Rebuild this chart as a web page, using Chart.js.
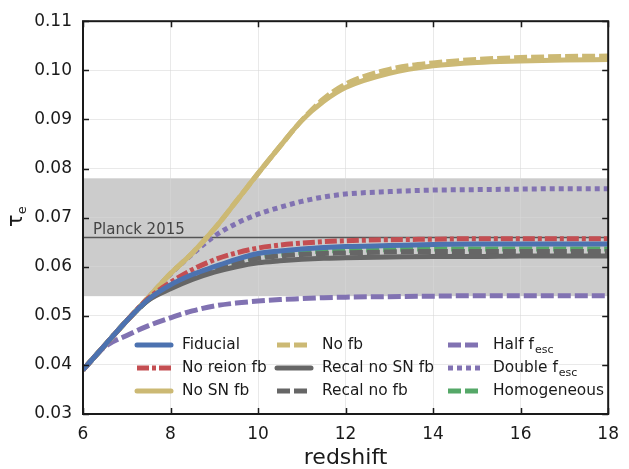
<!DOCTYPE html>
<html>
<head>
<meta charset="utf-8">
<script src="https://cdn.jsdelivr.net/npm/chart.js@4"></script>
<style>
  html, body { margin: 0; padding: 0; background: #fff; }
  #wrap { width: 629px; height: 469px; }
</style>
</head>
<body>
<div id="wrap"><canvas id="tau"></canvas></div>
<script>
// redshift samples
var redshift = [6, 6.5, 7, 7.5, 8, 8.5, 9, 9.5, 10, 10.5, 11, 11.5, 12, 13, 14, 15, 16, 17, 18];

// optical depth of each model
var fiducial     = [0.039, 0.044, 0.049, 0.0534, 0.0563, 0.0584, 0.0600, 0.0615, 0.0627, 0.0632, 0.0636, 0.0639, 0.0641, 0.0643, 0.0645, 0.0646, 0.0646, 0.0646, 0.0646];
var noReionFb    = [0.039, 0.044, 0.049, 0.0536, 0.0568, 0.0594, 0.0614, 0.0628, 0.0638, 0.0644, 0.0648, 0.0651, 0.0653, 0.0655, 0.0656, 0.0657, 0.0657, 0.0657, 0.0657];
var noSnFb       = [0.039, 0.044, 0.049, 0.0538, 0.0586, 0.0628, 0.0677, 0.0733, 0.0790, 0.0845, 0.0898, 0.0937, 0.0965, 0.0994, 0.1009, 0.1016, 0.1019, 0.1021, 0.1022];
var noFb         = [0.039, 0.044, 0.049, 0.0538, 0.0586, 0.0628, 0.0677, 0.0733, 0.0790, 0.0845, 0.0898, 0.0942, 0.0972, 0.1002, 0.1015, 0.1022, 0.1026, 0.1028, 0.1029];
var recalNoSnFb  = [0.039, 0.044, 0.049, 0.0532, 0.0555, 0.0574, 0.0589, 0.0600, 0.0608, 0.0612, 0.0615, 0.0617, 0.0618, 0.0620, 0.0621, 0.0621, 0.0622, 0.0622, 0.0622];
var recalNoFb    = [0.039, 0.044, 0.049, 0.0533, 0.0559, 0.0580, 0.0596, 0.0608, 0.0617, 0.0622, 0.0625, 0.0627, 0.0628, 0.0630, 0.0631, 0.0631, 0.0631, 0.0631, 0.0631];
var halfFesc     = [0.039, 0.0437, 0.0460, 0.0480, 0.0496, 0.0510, 0.0520, 0.0526, 0.0530, 0.0533, 0.0535, 0.0537, 0.0538, 0.0539, 0.0540, 0.0541, 0.0541, 0.0541, 0.0541];
var doubleFesc   = [0.039, 0.044, 0.049, 0.0538, 0.0585, 0.0626, 0.0662, 0.0688, 0.0707, 0.0721, 0.0733, 0.0742, 0.0748, 0.0753, 0.0756, 0.0757, 0.0758, 0.0759, 0.0759];
var homogeneous  = [0.039, 0.044, 0.049, 0.0533, 0.0561, 0.0582, 0.0597, 0.0610, 0.0620, 0.0625, 0.0629, 0.0632, 0.0633, 0.0635, 0.0636, 0.0636, 0.0636, 0.0636, 0.0636];

// Planck 2015 constraint
var planckTau = 0.066;
var planckLow = 0.054;
var planckHigh = 0.078;

var xTicks = [6, 8, 10, 12, 14, 16, 18];
var yTicks = [0.03, 0.04, 0.05, 0.06, 0.07, 0.08, 0.09, 0.10, 0.11];

var FONT = "'DejaVu Sans', sans-serif";

// label, sub-label, values, colour, dash
var models = [
    ['Fiducial', '', fiducial, '#4c72b0', []],
    ['No reion fb', '', noReionFb, '#c44e52', [12, 3, 4, 3]],
    ['No SN fb', '', noSnFb, '#ccb974', []],
    ['No fb', '', noFb, '#ccb974', [13, 4]],
    ['Recal no SN fb', '', recalNoSnFb, '#666666', []],
    ['Recal no fb', '', recalNoFb, '#666666', [13, 4]],
    ['Half f', 'esc', halfFesc, '#8172b2', [13, 4]],
    ['Double f', 'esc', doubleFesc, '#8172b2', [5, 4]],
    ['Homogeneous', '', homogeneous, '#55a868', [13, 4]]
];

function points(vals) {
    return vals.map(function (v, i) { return { x: redshift[i], y: v }; });
}

var datasets = models.map(function (m) {
    return {
        label: m[0] + m[1],
        data: points(m[2]),
        borderColor: m[3],
        borderWidth: 5,
        borderDash: m[4],
        borderCapStyle: 'butt',
        pointRadius: 0,
        fill: false,
        cubicInterpolationMode: 'monotone'
    };
});

// gray band + Planck line
var bandPlugin = {
    id: 'band',
    beforeDraw: function (chart) {
        var ctx = chart.ctx, a = chart.chartArea, y = chart.scales.y;
        ctx.save();
        ctx.fillStyle = '#cccccc';
        var top = y.getPixelForValue(planckHigh), bot = y.getPixelForValue(planckLow);
        ctx.fillRect(a.left, top, a.right - a.left, bot - top);
        ctx.restore();
    },
    beforeDatasetsDraw: function (chart) {
        var ctx = chart.ctx, a = chart.chartArea, y = chart.scales.y;
        var py = Math.round(y.getPixelForValue(planckTau)) + 0.5;
        ctx.save();
        ctx.strokeStyle = '#555555';
        ctx.lineWidth = 1.5;
        ctx.beginPath();
        ctx.moveTo(a.left, py);
        ctx.lineTo(a.right, py);
        ctx.stroke();
        ctx.fillStyle = '#444444';
        ctx.font = '15px ' + FONT;
        ctx.textBaseline = 'alphabetic';
        ctx.fillText('Planck 2015', a.left + 10, py - 4);
        ctx.restore();
    }
};

// frame, inward ticks, legend, y title
var framePlugin = {
    id: 'frame',
    afterDraw: function (chart) {
        var ctx = chart.ctx, a = chart.chartArea;
        var xs = chart.scales.x, ys = chart.scales.y;
        ctx.save();
        ctx.strokeStyle = '#1a1a1a';
        ctx.lineWidth = 1.5;
        xTicks.forEach(function (t) {
            var px = Math.round(xs.getPixelForValue(t)) + 0.5;
            ctx.beginPath();
            ctx.moveTo(px, a.bottom); ctx.lineTo(px, a.bottom - 6);
            ctx.moveTo(px, a.top); ctx.lineTo(px, a.top + 6);
            ctx.stroke();
        });
        yTicks.forEach(function (t) {
            var py = Math.round(ys.getPixelForValue(t)) + 0.5;
            ctx.beginPath();
            ctx.moveTo(a.left, py); ctx.lineTo(a.left + 6, py);
            ctx.moveTo(a.right, py); ctx.lineTo(a.right - 6, py);
            ctx.stroke();
        });
        ctx.lineWidth = 2;
        ctx.strokeRect(a.left, a.top, a.right - a.left, a.bottom - a.top);

        // legend, 3 columns
        var colX = [137, 277, 448];
        var rowY = [345, 368, 391];
        ctx.textBaseline = 'middle';
        models.forEach(function (m, i) {
            var c = Math.floor(i / 3), r = i % 3;
            var x0 = colX[c], y0 = rowY[r];
            ctx.strokeStyle = m[3];
            ctx.lineWidth = 5;
            ctx.lineCap = m[4].length ? 'butt' : 'round';
            ctx.setLineDash(m[4]);
            ctx.beginPath();
            ctx.moveTo(x0, y0); ctx.lineTo(x0 + 34, y0);
            ctx.stroke();
            ctx.setLineDash([]);
            ctx.fillStyle = '#1a1a1a';
            ctx.font = '15.4px ' + FONT;
            ctx.fillText(m[0], x0 + 45, y0);
            if (m[1]) {
                var w = ctx.measureText(m[0]).width;
                ctx.font = '11px ' + FONT;
                ctx.fillText(m[1], x0 + 45 + w + 1, y0 + 5);
            }
        });

        // y title tau_e
        ctx.translate(16, 217);
        ctx.rotate(-Math.PI / 2);
        ctx.fillStyle = '#1a1a1a';
        ctx.textBaseline = 'alphabetic';
        ctx.font = '21px ' + FONT;
        var tw = ctx.measureText('τ').width;
        ctx.fillText('τ', -10, 6);
        ctx.font = '13px ' + FONT;
        ctx.fillText('e', -10 + tw, 10);
        ctx.restore();
    }
};

new Chart(document.getElementById('tau'), {
    type: 'line',
    data: { datasets: datasets },
    plugins: [bandPlugin, framePlugin],
    options: {
        responsive: true,
        maintainAspectRatio: false,
        animation: false,
        layout: { padding: { left: 0, top: 20, right: 12, bottom: 0 } },
        plugins: { legend: { display: false }, tooltip: { enabled: false } },
        scales: {
            x: {
                type: 'linear',
                min: 6, max: 18,
                afterFit: function (s) { s.height = 55; },
                afterBuildTicks: function (s) { s.ticks = xTicks.map(function (v) { return { value: v }; }); },
                grid: { color: 'rgba(215,215,215,0.55)', lineWidth: 1, drawTicks: false },
                border: { display: false },
                ticks: { padding: 10, color: '#1a1a1a', font: { family: FONT, size: 17 }, maxRotation: 0 },
                title: { display: true, text: 'redshift', color: '#1a1a1a', font: { family: FONT, size: 22, lineHeight: 1 }, padding: { top: 0, bottom: 0 } }
            },
            y: {
                type: 'linear',
                min: 0.03, max: 0.11,
                afterFit: function (s) { s.width = 83; },
                afterBuildTicks: function (s) { s.ticks = yTicks.map(function (v) { return { value: v }; }); },
                grid: { color: 'rgba(215,215,215,0.55)', lineWidth: 1, drawTicks: false },
                border: { display: false },
                ticks: {
                    padding: 11, color: '#1a1a1a', font: { family: FONT, size: 17 },
                    callback: function (v) { return v.toFixed(2); }
                }
            }
        }
    }
});
</script>
</body>
</html>
